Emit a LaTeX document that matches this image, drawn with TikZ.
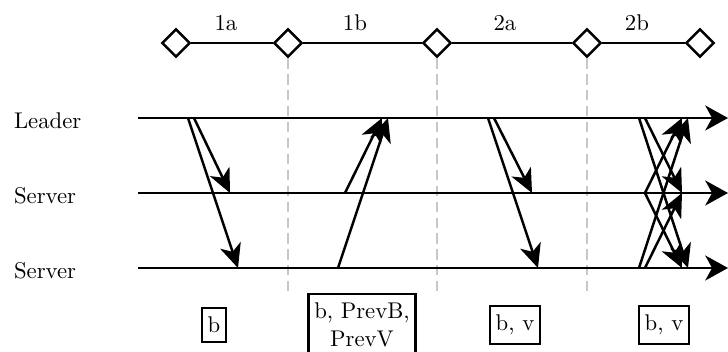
\documentclass[tikz,border=0pt]{standalone}
\usetikzlibrary{arrows.meta,shapes.geometric}

\tikzset{
    bold/.style={line width=1.1pt},
    phase/.style={diamond, draw, bold, fill=white, minimum size=12.5pt, inner sep=0pt},
    msg/.style={bold, -{Stealth[length=10.5pt,width=9.5pt,inset=3pt]}},
    proc/.style={bold, -{Stealth[length=10pt,width=11pt,inset=3pt]}},
    sep/.style={black!22, line width=1.1pt, dash pattern=on 4.5pt off 2.5pt},
    payload/.style={draw, bold, align=center, inner xsep=2.5pt, inner ysep=4pt}
}

\begin{document}
\begin{tikzpicture}[x=0.44pt, y=-0.44pt]
    \useasboundingbox (0,0) rectangle (728,352);

    % Phase markers and the line through them
    \foreach \i/\x in {0/176, 1/288, 2/437, 3/587, 4/700}
        \node[phase] (d\i) at (\x,43) {};
    \foreach \a/\b in {0/1, 1/2, 2/3, 3/4}
        \draw[bold] (d\a) -- (d\b);

    % Phase names
    \node (ph1a) at (226,23) {1a};
    \node (ph1b) at (355,23) {1b};
    \node (ph2a) at (505,23) {2a};
    \node (ph2b) at (637,23) {2b};

    % Dashed separators between phases
    \foreach \i in {1,2,3}
        \draw[sep] (d\i.south) -- (d\i |- 0,292);

    % Process lines
    \coordinate (lead) at (138,118);
    \coordinate (srv1) at (138,193);
    \coordinate (srv2) at (138,268);
    \node[anchor=base west] (nlead) at (6,129) {Leader};
    \node[anchor=base west] (nsrv1) at (6,204) {Server};
    \node[anchor=base west] (nsrv2) at (6,279) {Server};
    \foreach \p in {lead, srv1, srv2}
        \draw[proc] (\p) -- (728,0 |- \p);

    % Phase 1a: leader to servers
    \draw[msg] (194,0 |- lead) -- (230,0 |- srv1);
    \draw[msg] (188,0 |- lead) -- (238,0 |- srv2);

    % Phase 1b: servers answer the leader
    \draw[msg] (345,0 |- srv1) -- (382,0 |- lead);
    \draw[msg] (338,0 |- srv2) -- (388,0 |- lead);

    % Phase 2a: leader to servers
    \draw[msg] (494,0 |- lead) -- (532,0 |- srv1);
    \draw[msg] (488,0 |- lead) -- (538,0 |- srv2);

    % Phase 2b: everyone to everyone
    \draw[msg] (645,0 |- lead) -- (682,0 |- srv1);
    \draw[msg] (639,0 |- lead) -- (688,0 |- srv2);
    \draw[msg] (645,0 |- srv1) -- (682,0 |- lead);
    \draw[msg] (645,0 |- srv1) -- (682,0 |- srv2);
    \draw[msg] (639,0 |- srv2) -- (688,0 |- lead);
    \draw[msg] (645,0 |- srv2) -- (682,0 |- srv1);

    % Message contents
    \node[payload] (p1a) at (214,325) {b};
    \node[payload] (p1b) at (362,325) {b, PrevB,\\PrevV};
    \node[payload] (p2a) at (515,325) {b, v};
    \node[payload] (p2b) at (664,325) {b, v};
\end{tikzpicture}
\end{document}
